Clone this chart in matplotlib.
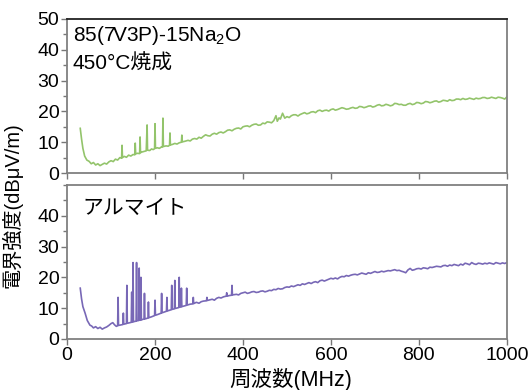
import matplotlib
matplotlib.use("Agg")
import matplotlib.pyplot as plt
from matplotlib.ticker import MultipleLocator

plt.rcParams['font.family'] = ['Liberation Sans', 'Noto Sans CJK JP', 'DejaVu Sans']
plt.rcParams['mathtext.fontset'] = 'custom'
plt.rcParams['mathtext.rm'] = 'Liberation Sans'

# top panel: 85(7V3P)-15Na2O, 450C baked
freq_top = [30, 33, 36, 40, 45, 50, 55, 60, 65, 70, 75, 80, 85, 90, 95, 100, 105, 110, 115, 120,
            124, 125, 126, 130, 135, 140, 145, 150, 154, 155, 156, 160, 165, 166, 167, 170, 175, 180,
            182, 183, 188, 192, 196, 199, 200, 201, 205, 210, 215, 217, 218, 219, 225, 230, 233, 234,
            235, 240, 245, 250, 255, 260, 261, 262, 268, 275, 280, 285, 290, 295, 300, 305, 310, 315, 320, 325, 330,
            335, 340, 345, 350, 355, 360, 365, 370, 375, 380, 385, 390, 395, 400, 405, 410, 415, 420, 425, 430, 435,
            440, 445, 450, 455, 460, 465, 470, 475, 478, 482, 485, 490,
            495, 500, 505, 510, 515, 520, 525, 530, 535, 540, 545, 550, 555, 560, 565, 570, 575, 580, 585, 590,
            595, 600, 605, 610, 615, 620, 625, 630, 635, 640, 645, 650, 655, 660,
            665, 670, 675, 680, 685, 690, 695, 700, 705, 710, 715, 720, 725, 730, 735, 740, 745, 750, 755, 760,
            765, 770, 775, 780, 785, 790, 795, 800, 805, 810, 815, 820, 825, 830, 835, 840,
            845, 850, 855, 860, 865, 870, 875, 880, 885, 890, 895, 900, 905, 910, 915, 920, 925, 930, 935, 940,
            945, 950, 955, 960, 965, 970, 975, 980, 985, 990, 995, 1000]
level_top = [14.5, 11.0, 8.0, 5.5, 4.2, 3.8, 3.0, 3.4, 2.6, 3.0, 2.4, 2.8, 3.2, 2.9, 3.6, 4.0, 3.7, 4.5, 4.2, 5.0,
             4.8, 9.0, 5.0, 5.4, 5.1, 5.8, 5.5, 6.0, 5.9, 9.7, 6.2, 6.4, 6.3, 11.7, 6.6, 6.8, 7.0, 7.2,
             15.6, 7.4, 7.3, 7.8, 7.6, 7.9, 16.0, 8.0, 8.2, 8.0, 8.5, 8.4, 17.8, 8.6, 8.8, 8.7, 9.0, 13.0,
             9.1, 9.3, 9.6, 9.4, 9.8, 10.0, 12.3, 10.1, 10.3, 10.6, 10.4, 11.0, 11.2, 11.0, 11.6, 11.3, 11.9, 12.4, 12.1, 12.0, 12.6,
             12.9, 12.6, 13.1, 13.3, 13.0, 13.4, 13.9, 14.0, 13.7, 14.2, 14.5, 14.6, 14.3, 15.0, 15.2, 15.3, 15.0, 15.5, 15.8, 15.9, 15.5,
             15.6, 16.2, 16.0, 16.6, 16.5, 16.3, 17.0, 18.6, 16.8, 17.9, 17.5, 19.4,
             17.8, 18.3, 18.0, 18.6, 18.9, 18.9, 18.5, 19.0, 19.3, 19.6, 19.2, 19.4, 19.8, 19.9, 19.6, 20.2, 20.4, 20.0, 20.3, 20.4,
             20.1, 20.6, 20.8, 20.4, 20.6, 20.9, 21.2, 21.0, 20.7, 20.8, 21.1, 21.3, 21.0, 21.1,
             21.6, 21.5, 21.2, 21.4, 21.7, 21.8, 21.4, 21.6, 22.0, 22.2, 21.8, 21.9, 22.3, 22.1, 21.8, 22.0, 22.6, 22.5, 22.2, 22.3,
             22.0, 22.0, 22.4, 22.6, 22.2, 22.4, 22.9, 22.8, 22.5, 22.7, 23.2, 23.1, 22.8, 23.0, 23.3, 23.4,
             23.0, 23.2, 23.6, 23.5, 23.3, 23.8, 23.5, 23.6, 24.0, 24.0, 23.8, 24.2, 23.9, 24.0, 24.3, 24.1, 23.9, 24.3, 24.1, 24.2,
             24.5, 24.5, 24.2, 24.3, 24.6, 24.4, 24.2, 24.6, 24.5, 24.3, 24.0, 24.7]

# bottom panel: alumite
freq_bot = [30, 33, 36, 41, 46, 52, 56, 60, 65, 70, 75, 80, 85, 90, 95, 100, 104, 108, 112, 115,
            116, 117, 120, 127, 128, 129, 135, 136, 137, 146, 147, 148, 149, 150, 151, 157, 158, 159,
            163, 164, 165, 167, 168, 169, 175, 176, 177, 184, 185, 186, 192, 199, 200, 201, 207, 214,
            215, 216, 226, 227, 228, 237, 238, 239, 244, 245, 246, 254, 255, 256, 259, 260, 261, 271,
            272, 273, 280, 286, 287, 288, 294, 300, 305, 310, 317, 318, 319, 325, 330, 335, 340, 345, 350, 356, 362, 363, 364, 369, 374,
            375, 376, 380, 385, 390, 395, 400, 405, 410, 415, 420, 425, 430, 435, 440, 445, 450, 455, 460, 465, 470, 475, 480, 485,
            490, 495, 500, 505, 510, 515, 520, 525, 530,
            535, 540, 545, 550, 555, 560, 565, 570, 575, 580, 585, 590, 595, 600, 605, 610, 615, 620, 625, 630, 635, 640, 645, 650,
            655, 660, 665, 670, 675, 680, 685, 690, 695, 700, 705, 710,
            715, 720, 725, 730, 735, 740, 745, 750, 755, 760, 765, 770, 775, 780, 785, 790, 795, 800, 805, 810, 815, 820, 825, 830,
            835, 840, 845, 850, 855, 860, 865, 870, 875, 880, 885, 890,
            895, 900, 905, 910, 915, 920, 925, 930, 935, 940, 945, 950, 955, 960, 965, 970, 975, 980, 985, 990, 995, 1000]
level_bot = [16.5, 13.0, 10.5, 8.4, 6.0, 4.5, 4.2, 3.6, 4.0, 3.4, 3.8, 3.2, 3.6, 3.9, 4.4, 5.0, 5.3, 4.6, 4.1, 4.3,
             13.5, 4.4, 4.5, 4.7, 8.4, 4.8, 5.0, 17.4, 5.1, 5.4, 15.2, 5.5, 5.5, 24.8, 5.6, 5.8, 24.8, 5.9,
             6.0, 23.0, 6.1, 6.1, 20.0, 6.2, 6.5, 14.8, 6.5, 6.8, 12.0, 6.9, 7.2, 7.6, 12.6, 7.7, 8.0, 8.4,
             14.8, 8.5, 9.0, 13.5, 9.1, 9.5, 17.4, 9.6, 9.8, 19.0, 9.9, 10.2, 20.0, 10.3, 10.4, 16.5, 10.5, 10.9,
             16.5, 11.0, 11.3, 11.4, 13.5, 11.5, 11.9, 11.6, 12.1, 12.3, 12.4, 13.5, 12.5, 12.7, 12.9, 12.6, 13.2, 13.5, 13.3, 13.7, 13.9, 15.0, 13.9, 14.1, 14.2,
             17.4, 14.3, 14.4, 14.5, 14.3, 14.8, 15.0, 15.2, 14.8, 15.0, 15.3, 15.4, 15.1, 15.2, 15.5, 15.6, 15.3, 15.5, 15.8, 15.7, 16.1, 16.0, 16.4, 16.2,
             16.3, 16.7, 16.9, 16.8, 17.2, 17.0, 17.3, 17.6, 17.4,
             17.9, 17.7, 18.0, 18.3, 18.0, 18.4, 18.6, 18.3, 18.9, 19.1, 18.8, 19.1, 19.4, 19.7, 19.5, 19.8, 19.5, 20.0, 20.3, 20.2, 20.6, 20.4, 20.7, 20.9,
             21.0, 20.8, 21.1, 21.4, 21.2, 21.0, 21.5, 21.3, 21.6, 21.9, 21.6, 21.7,
             22.0, 21.8, 22.0, 22.2, 22.1, 22.3, 22.5, 22.2, 22.3, 22.0, 21.8, 21.5, 22.4, 22.9, 22.3, 22.5, 22.8, 22.9, 22.7, 23.1, 23.0, 22.8, 23.3, 23.2,
             23.4, 23.6, 23.5, 23.4, 23.8, 23.9, 23.6, 24.0, 23.8, 24.2, 24.0, 23.8,
             24.3, 24.0, 24.6, 24.4, 24.1, 24.8, 24.4, 24.2, 24.6, 24.5, 24.3, 24.6, 24.4, 24.7, 24.5, 24.3, 24.8, 24.6, 24.4, 24.7, 24.5, 24.8]

x_ticks = [0, 200, 400, 600, 800, 1000]
y_ticks = [0, 10, 20, 30, 40, 50]

fig = plt.figure(figsize=(5.28, 3.9), dpi=100)
ax1 = fig.add_axes([0.127, 0.5564, 0.833, 0.395])
ax2 = fig.add_axes([0.127, 0.1308, 0.833, 0.395])

ax1.plot(freq_top, level_top, color='#93c46b', lw=1.2)
ax2.plot(freq_bot, level_bot, color='#7868b6', lw=1.2)

for ax in (ax1, ax2):
    ax.set_xlim(0, 1000)
    ax.set_ylim(0, 50)
    ax.set_xticks(x_ticks)
    ax.set_yticks(y_ticks)
    ax.yaxis.set_minor_locator(MultipleLocator(5))
    ax.tick_params(axis='both', which='major', direction='out', length=4, width=1,
                   color='#777777', labelsize=14, pad=1.5)
    ax.tick_params(axis='y', which='minor', direction='out', length=3, width=1, color='#777777')
    for s in ax.spines.values():
        s.set_color('#808080')
        s.set_linewidth(1.3)

ax1.spines['top'].set_color('#222222')
ax1.tick_params(axis='x', labelbottom=False)
ax2.set_yticks(y_ticks[:-1])
ax2.set_xticklabels([str(v) for v in x_ticks])

ax1.text(0.013, 0.89, '85(7V3P)-15Na$\\mathregular{_2}$O', transform=ax1.transAxes,
         fontsize=15, va='center', ha='left')
ax1.text(0.013, 0.71, '450°C焼成', transform=ax1.transAxes,
         fontsize=15, va='center', ha='left')
ax2.text(0.035, 0.85, 'アルマイト', transform=ax2.transAxes,
         fontsize=15, va='center', ha='left')

fig.text(0.022, 0.475, '電界強度(dBμV/m)', rotation=90, fontsize=14.5, ha='center', va='center')
fig.text(0.55, 0.028, '周波数(MHz)', fontsize=15.5, ha='center', va='center')

fig.savefig('out.png', dpi=100)
